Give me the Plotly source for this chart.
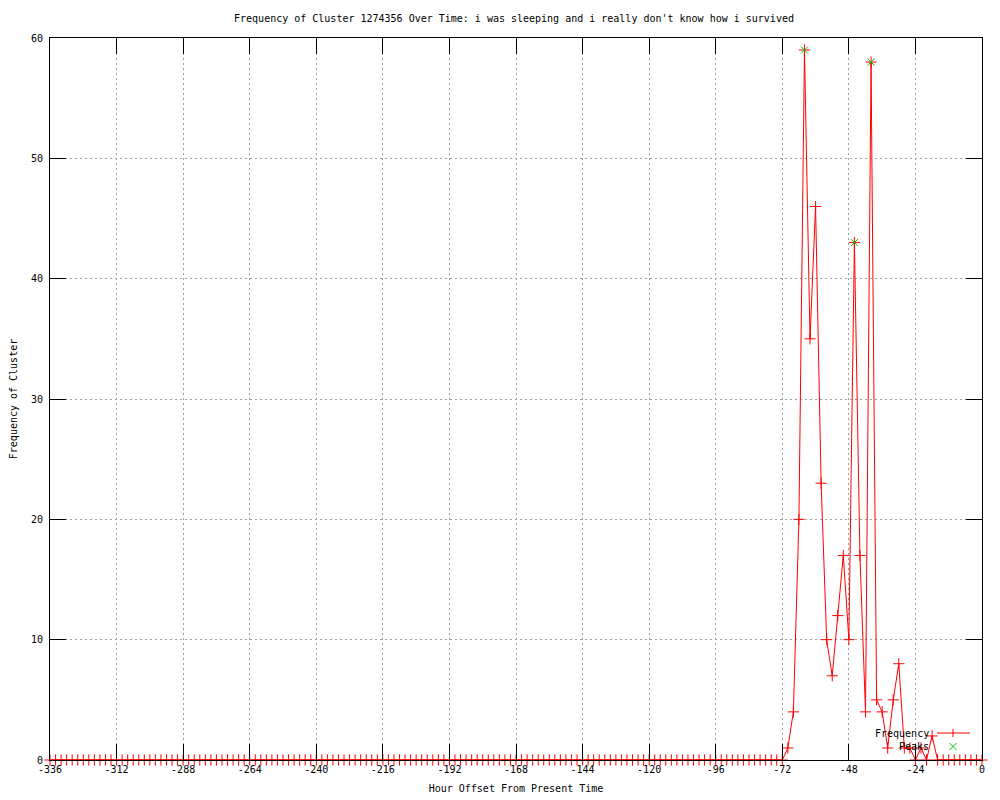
import plotly.graph_objects as go

# ---- data ----
hours = list(range(-336, 1, 2))
frequency = [
    0, 0, 0, 0, 0, 0, 0, 0, 0, 0, 0, 0, 0, 0, 0, 0, 0, 0, 0,
    0, 0, 0, 0, 0, 0, 0, 0, 0, 0, 0, 0, 0, 0, 0, 0, 0, 0, 0,
    0, 0, 0, 0, 0, 0, 0, 0, 0, 0, 0, 0, 0, 0, 0, 0, 0, 0, 0,
    0, 0, 0, 0, 0, 0, 0, 0, 0, 0, 0, 0, 0, 0, 0, 0, 0, 0, 0,
    0, 0, 0, 0, 0, 0, 0, 0, 0, 0, 0, 0, 0, 0, 0, 0, 0, 0, 0,
    0, 0, 0, 0, 0, 0, 0, 0, 0, 0, 0, 0, 0, 0, 0, 0, 0, 0, 0,
    0, 0, 0, 0, 0, 0, 0, 0, 0, 0, 0, 0, 0, 0, 0, 0, 0, 0, 0,
    # -70 .. 0
    1, 4, 20, 59, 35, 46, 23, 10, 7, 12, 17, 10, 43, 17, 4, 58, 5, 4,
    1, 5, 8, 1, 1, 0, 1, 0, 2, 0, 0, 0, 0, 0, 0, 0, 0, 0,
]
peak_hours = [-64, -46, -40]
peak_values = [59, 43, 58]

x_tick_values = [-336, -312, -288, -264, -240, -216, -192, -168, -144, -120, -96, -72, -48, -24, 0]
x_tick_labels = ["-336", "-312", "-288", "-264", "-240", "-216", "-192", "-168",
                 "-144", "-120", "-96", "-72", "-48", "-24", "0"]
y_tick_values = [0, 10, 20, 30, 40, 50, 60]

title_text = "Frequency of Cluster 1274356 Over Time: i was sleeping and i really don't know how i survived"

FONT = "DejaVu Sans Mono"
W, H = 1000, 800
L, R, T, B = 50, 18, 38, 40
PW, PH = W - L - R, H - T - B


def px(xp):
    return (xp - L) / PW


def py(yp):
    return (H - B - yp) / PH


fig = go.Figure()
fig.add_trace(go.Scatter(
    x=hours, y=frequency, mode="lines+markers", name="Frequency",
    line=dict(color="#ff0000", width=1),
    marker=dict(symbol="cross-thin", size=8, color="#ff0000", line=dict(color="#ff0000", width=1)),
    cliponaxis=False, showlegend=False,
))
fig.add_trace(go.Scatter(
    x=peak_hours, y=peak_values, mode="markers", name="Peaks",
    marker=dict(symbol="x-thin", size=7, color="#00c000", line=dict(color="#00c000", width=1)),
    cliponaxis=False, showlegend=False,
))

axis_common = dict(
    showline=True, linecolor="black", linewidth=1, mirror="ticks",
    ticks="inside", ticklen=16, tickcolor="black", tickwidth=1,
    showgrid=True, gridcolor="#a0a0a0", griddash="2px,3px", gridwidth=1,
    zeroline=False, automargin=False,
    tickfont=dict(family=FONT, size=10, color="black"),
)

fig.update_xaxes(
    range=[-336, 0], tickvals=x_tick_values, ticktext=x_tick_labels,
    title=dict(text="Hour Offset From Present Time", font=dict(family=FONT, size=10, color="black"), standoff=10),
    **axis_common,
)
fig.update_yaxes(
    range=[0, 60], tickvals=y_tick_values, ticklabelstandoff=4,
    title=dict(text="Frequency of Cluster", font=dict(family=FONT, size=10, color="black"), standoff=11),
    **axis_common,
)

# gnuplot-style key (text left of sample)
shapes = [
    dict(type="line", xref="paper", yref="paper", x0=px(937), x1=px(970), y0=py(733), y1=py(733),
         line=dict(color="#ff0000", width=1)),
    dict(type="line", xref="paper", yref="paper", x0=px(953), x1=px(953), y0=py(729), y1=py(737),
         line=dict(color="#ff0000", width=1)),
    dict(type="line", xref="paper", yref="paper", x0=px(949.5), x1=px(956.5), y0=py(743), y1=py(750),
         line=dict(color="#00c000", width=1)),
    dict(type="line", xref="paper", yref="paper", x0=px(949.5), x1=px(956.5), y0=py(750), y1=py(743),
         line=dict(color="#00c000", width=1)),
]
annotations = [
    dict(text="Frequency", xref="paper", yref="paper", x=px(931), y=py(733),
         xanchor="right", yanchor="middle", showarrow=False,
         font=dict(family=FONT, size=10, color="black")),
    dict(text="Peaks", xref="paper", yref="paper", x=px(931), y=py(746.5),
         xanchor="right", yanchor="middle", showarrow=False,
         font=dict(family=FONT, size=10, color="black")),
]

fig.update_layout(
    width=W, height=H,
    margin=dict(l=L, r=R, t=T, b=B, pad=0, autoexpand=False),
    paper_bgcolor="white", plot_bgcolor="white",
    title=dict(text=title_text, x=0.514, xanchor="center", y=1 - 18 / H, yanchor="middle",
               yref="container", xref="container", automargin=False,
               font=dict(family=FONT, size=10, color="black")),
    font=dict(family=FONT, size=10, color="black"),
    shapes=shapes, annotations=annotations,
    showlegend=False,
)

fig.write_html("out.html", config={"displayModeBar": False},
               post_script="document.body.style.margin='0';document.body.style.padding='0';")
